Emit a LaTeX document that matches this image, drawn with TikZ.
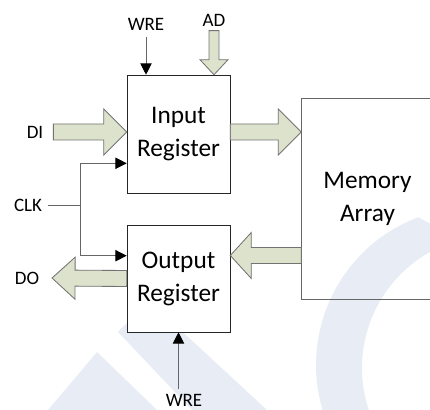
\documentclass[tikz,border=0pt]{standalone}
\usepackage{fontspec}
\setmainfont{Carlito}
\usetikzlibrary{arrows.meta,calc,positioning}
\definecolor{fleche}{RGB}{221,226,204}
\definecolor{filigrane}{RGB}{232,237,245}
\newcommand{\grostexte}{\fontsize{18}{23.5}\selectfont}
\newcommand{\petittexte}{\fontsize{13.5}{16}\selectfont}
% gros bloc fleche : queue, pointe, demi-tige, demi-tete, longueur tete
\newcommand{\blocfleche}[5]{%
  \path ($(#2)!#5!(#1)$) coordinate (base);
  \draw[bloc] ($(#1)!#3!90:(#2)$) -- ($(base)!#3!90:(#2)$) -- ($(base)!#4!90:(#2)$) -- (#2)
    -- ($(base)!#4!-90:(#2)$) -- ($(base)!#3!-90:(#2)$) -- ($(#1)!#3!-90:(#2)$) -- cycle;}
\tikzset{
  registre/.style={draw=black!85, fill=white, align=center, font=\grostexte, minimum width=25.75mm},
  etiq/.style={font=\petittexte, inner sep=1pt},
  signal/.style={draw=black!60, line width=0.7pt, -{Triangle[length=8pt,width=8pt,black]}},
  bloc/.style={draw=black!55, fill=fleche, line width=0.6pt},
}

\begin{document}
\begin{tikzpicture}[x=0.25mm,y=-0.25mm]
\useasboundingbox (0,0) rectangle (430,410);
% Filigrane
\fill[filigrane] (48,410) -- (97,352) -- (157,410) -- cycle;
\fill[filigrane] (118,332) -- (127,323) -- (173,323) -- (267,410) -- (192,410) -- cycle;
\fill[filigrane] ($(474,365)+(249.3:158)$) arc[start angle=249.3,end angle=150,radius=158]
  -- ($(495,368)+(150:133)$) arc[start angle=150,end angle=255,radius=133] -- cycle;
% Registres
\node[registre, minimum height=29.5mm] (entree) at (178.5,134) {Input\\Register};
\node[registre, minimum height=26.75mm] (sortie) at (178.5,278.5) {Output\\Register};
\node[draw=black!60, align=center, font=\grostexte, minimum width=33mm, minimum height=50.25mm] (memoire) at (367.5,198.5) {Memory\\Array};
% Etiquettes
\node[etiq] (wre-haut) at (146,24) {WRE};
\node[etiq] (ad) at (214,20) {AD};
\node[etiq] (di) at (35,132) {DI};
\node[etiq] (clk) at (28,205) {CLK};
\node[etiq] (do) at (27,278) {DO};
\node[etiq] (wre-bas) at (184,400) {WRE};
% Signaux
\draw[signal, shorten <=4pt] (wre-haut.south) -- (wre-haut.south |- entree.north);
\draw[signal, shorten <=2pt] (wre-bas.north -| sortie.south) -- (sortie.south);
\coordinate (clk-j) at (80,205);
\draw[draw=black!60, line width=0.7pt, shorten <=3pt] (clk.east) -- (clk-j);
\draw[signal] (clk-j) |- ($(entree.south west)+(0,-30)$);
\draw[signal] (clk-j) |- ($(sortie.north west)+(0,31)$);
% Blocs fleches
\coordinate (di-q) at ([xshift=6pt]di.east);
\coordinate (di-p) at (entree.west |- di-q);
\blocfleche{di-q}{di-p}{2mm}{5.75mm}{5.75mm}
\coordinate (ad-q) at ([yshift=-2pt]ad.south);
\coordinate (ad-p) at (ad-q |- entree.north);
\blocfleche{ad-q}{ad-p}{1.25mm}{3.5mm}{3.75mm}
\coordinate (ecr-q) at ($(entree.east)+(0,-2)$);
\coordinate (ecr-p) at (memoire.west |- ecr-q);
\blocfleche{ecr-q}{ecr-p}{2mm}{5.75mm}{5.75mm}
\coordinate (lec-p) at ($(sortie.east)+(0,-23)$);
\coordinate (lec-q) at (memoire.west |- lec-p);
\blocfleche{lec-q}{lec-p}{2mm}{5.75mm}{5.25mm}
\coordinate (do-q) at (sortie.west);
\coordinate (do-p) at ([xshift=8pt]do.east);
\blocfleche{do-q}{do-p}{2mm}{5.25mm}{5.75mm}
\end{tikzpicture}
\end{document}
